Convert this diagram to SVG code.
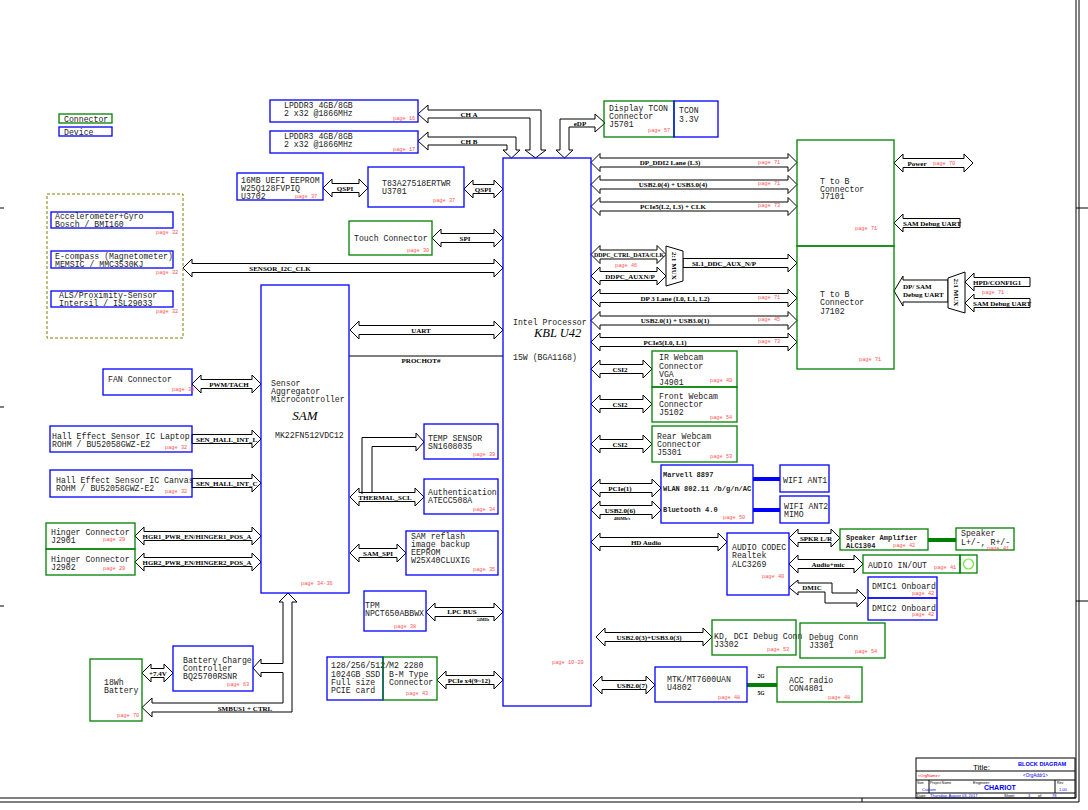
<svg xmlns="http://www.w3.org/2000/svg" width="1088" height="810" viewBox="0 0 1088 810">
<style>
.b{fill:none;stroke:#0000ff;stroke-width:1.3}
.g{fill:none;stroke:#008000;stroke-width:1.3}
.a{fill:#fff;stroke:#000;stroke-width:1}
.t{font-family:"Liberation Mono",monospace;font-size:8.2px;fill:#222}
.tb{font-family:"Liberation Mono",monospace;font-size:7px;font-weight:bold;fill:#222}
.p{font-family:"Liberation Mono",monospace;font-size:5.3px;fill:#ff5050}
.s{font-family:"Liberation Serif",serif;font-size:7px;font-weight:bold;fill:#000;text-anchor:middle}
.sl{font-family:"Liberation Serif",serif;font-size:7px;font-weight:bold;fill:#000}
.k{font-family:"Liberation Serif",serif;font-style:italic;fill:#000}
.f{fill:none;stroke:#000;stroke-width:1}
.tt{font-family:"Liberation Sans",sans-serif;font-size:4px;fill:#000}
</style>
<rect width="1088" height="810" fill="#fff"/>

<g id="frame">
<path class="f" d="M0,798 H1076 V0 M0,802 H1079 V0"/>
<path class="f" d="M0,208 H4 M0,407 H4 M0,606 H4 M1076,208 H1088 M1076,601 H1088 M862,798 V802"/>
</g>

<g id="legend">
<rect class="g" x="59" y="114" width="53" height="9"/>
<text class="t" x="64" y="121.5">Connector</text>
<rect class="b" x="59" y="127" width="53" height="9"/>
<text class="t" x="64" y="134.5">Device</text>
</g>

<g id="connectors">
<!-- memory -->
<polygon class="a" points="418,114 428,105 428,110 541,110 541,150 546,150 535.5,158 525,150 530,150 530,118 428,118 428,123"/>
<polygon class="a" points="418,141 428,132 428,137 516,137 516,150 520,150 511.5,158 503,150 507,150 507,145 428,145 428,150"/>
<polygon class="a" points="564.5,158 556,150 560,150 560,119 595,119 595,114 605,123 595,132 595,127 569,127 569,150 573,150"/>
<!-- left center -->
<polygon class="a" points="323,188 332,179 332,183.5 359,183.5 359,179 368,188 359,197 359,192.5 332,192.5 332,197"/>
<polygon class="a" points="464,189 473,180 473,184.5 494,184.5 494,180 503,189 494,198 494,193.5 473,193.5 473,198"/>
<polygon class="a" points="432,238 441,229 441,233.5 494,233.5 494,229 503,238 494,247 494,242.5 441,242.5 441,247"/>
<polygon class="a" points="183,268 192,259 192,263.5 494,263.5 494,259 503,268 494,277 494,272.5 192,272.5 192,277"/>
<polygon class="a" points="350,330 359,321 359,325.5 494,325.5 494,321 503,330 494,339 494,334.5 359,334.5 359,339"/>
<line class="f" x1="349" y1="356" x2="503" y2="356"/>
<path class="a" d="M362,492.5 V437.5 H416 V433 L424,442 L416,451 V446.5 H372 V492.5"/>
<polygon class="a" points="350,497 359,488 359,492.5 415,492.5 415,488 424,497 415,506 415,501.5 359,501.5 359,506"/>
<line class="f" x1="362" y1="492.5" x2="362" y2="494"/>
<polygon class="a" points="350,553 359,544 359,548.5 397,548.5 397,544 406,553 397,562 397,557.5 359,557.5 359,562"/>
<polygon class="a" points="426,612 435,603 435,607.5 494,607.5 494,603 503,612 494,621 494,616.5 435,616.5 435,621"/>
<polygon class="a" points="437,680 446,671 446,675.5 494,675.5 494,671 503,680 494,689 494,684.5 446,684.5 446,689"/>
<!-- SAM left side -->
<polygon class="a" points="192,384 201,375 201,379.5 252,379.5 252,375 261,384 252,393 252,388.5 201,388.5 201,393"/>
<polygon class="a" points="192,434.5 252,434.5 252,430 261,439 252,448 252,443.5 192,443.5"/>
<polygon class="a" points="192,478.5 252,478.5 252,474 261,483 252,492 252,487.5 192,487.5"/>
<polygon class="a" points="135,536 144,527 144,531.5 252,531.5 252,527 261,536 252,545 252,540.5 144,540.5 144,545"/>
<polygon class="a" points="135,562 144,553 144,557.5 252,557.5 252,553 261,562 252,571 252,566.5 144,566.5 144,571"/>
<polygon class="a" points="142,673 151,664 151,668.5 164,668.5 164,664 173,673 164,682 164,677.5 151,677.5 151,682"/>
<polygon class="a" points="142,707.5 152,698 152,703 283,703 283,672.5 261,672.5 261,677 253,668 261,659 261,663.5 283,663.5 283,602 279,602 288,593 297,602 292,602 292,712 152,712 152,717"/>
<!-- right side -->
<polygon class="a" points="591,162.5 600,153.5 600,158 788,158 788,153.5 797,162.5 788,171.5 788,167 600,167 600,171.5"/>
<polygon class="a" points="591,184.5 600,175.5 600,180 788,180 788,175.5 797,184.5 788,193.5 788,189 600,189 600,193.5"/>
<polygon class="a" points="591,206.5 600,197.5 600,202 788,202 788,197.5 797,206.5 788,215.5 788,211 600,211 600,215.5"/>
<polygon class="a" points="591,254.5 600,245.5 600,250 657,250 657,245.5 666,254.5 657,263.5 657,259 600,259 600,263.5"/>
<polygon class="a" points="591,276 600,267 600,271.5 657,271.5 657,267 666,276 657,285 657,280.5 600,280.5 600,285"/>
<polygon class="a" points="683,258.5 788,258.5 788,254 797,263 788,272 788,267.5 683,267.5"/>
<polygon class="a" points="591,298 600,289 600,293.5 788,293.5 788,289 797,298 788,307 788,302.5 600,302.5 600,307"/>
<polygon class="a" points="591,320.5 600,311.5 600,316 788,316 788,311.5 797,320.5 788,329.5 788,325 600,325 600,329.5"/>
<polygon class="a" points="591,342 600,333 600,337.5 788,337.5 788,333 797,342 788,351 788,346.5 600,346.5 600,351"/>
<polygon class="a" points="591,369 600,360 600,364.5 643,364.5 643,360 652,369 643,378 643,373.5 600,373.5 600,378"/>
<polygon class="a" points="591,404 600,395 600,399.5 643,399.5 643,395 652,404 643,413 643,408.5 600,408.5 600,413"/>
<polygon class="a" points="591,444 600,435 600,439.5 643,439.5 643,435 652,444 643,453 643,448.5 600,448.5 600,453"/>
<polygon class="a" points="591,488 600,479 600,483.5 652,483.5 652,479 661,488 652,497 652,492.5 600,492.5 600,497"/>
<polygon class="a" points="591,510 600,501 600,505.5 652,505.5 652,501 661,510 652,519 652,514.5 600,514.5 600,519"/>
<polygon class="a" points="591,542 600,533 600,537.5 718,537.5 718,533 727,542 718,551 718,546.5 600,546.5 600,551"/>
<polygon class="a" points="789,538 798,529 798,533.5 831,533.5 831,529 840,538 831,547 831,542.5 798,542.5 798,547"/>
<polygon class="a" points="789,564 798,555 798,559.5 854,559.5 854,555 863,564 854,573 854,568.5 798,568.5 798,573"/>
<polygon class="a" points="789,587.5 798,580 798,583 832,583 832,593 857,593 857,589 866,598 857,607 857,603 825,603 825,592 798,592 798,595"/>
<polygon class="a" points="596,637 605,628 605,632.5 703,632.5 703,628 712,637 703,646 703,641.5 605,641.5 605,646"/>
<polygon class="a" points="593,685 602,676 602,680.5 646,680.5 646,676 655,685 646,694 646,689.5 602,689.5 602,694"/>
<polygon class="a" points="894,163 903,154 903,158.5 964,158.5 964,154 973,163 964,172 964,167.5 903,167.5 903,172"/>
<polygon class="a" points="894,223 903,214 903,218.5 960,218.5 960,227.5 903,227.5 903,232"/>
<polygon class="a" points="894,291 903,276 903,280 948,280 948,302 903,302 903,306"/>
<polygon class="a" points="965,282 974,273 974,277.5 1030,277.5 1030,286.5 974,286.5 974,291"/>
<polygon class="a" points="965,303 974,294 974,298.5 1030,298.5 1030,307.5 974,307.5 974,312"/>
<!-- thick links -->
<path d="M753,479 H780 M753,510 H780" stroke="#0000ff" stroke-width="4"/>
<path d="M928,540 H956 M747,685 H777" stroke="#008000" stroke-width="4"/>

<!-- labels -->
<text class="s" x="469" y="116.5">CH A</text>
<text class="s" x="469" y="143.5">CH B</text>
<text class="s" x="580" y="125.5">eDP</text>
<text class="s" x="345" y="190.5">QSPI</text>
<text class="s" x="483" y="191.5">QSPI</text>
<text class="s" x="465" y="240.5">SPI</text>
<text class="s" x="280" y="270.5">SENSOR_I2C_CLK</text>
<text class="s" x="421" y="332.5">UART</text>
<text class="s" x="421" y="363">PROCHOT#</text>
<text class="s" x="385" y="499.5">THERMAL_SCL</text>
<text class="s" x="378" y="555.5">SAM_SPI</text>
<text class="s" x="462" y="614">LPC BUS</text>
<text class="s" x="483" y="620.5" style="font-size:4px">24MHz</text>
<text class="s" x="469" y="682.5">PCIe x4(9~12)</text>
<text class="s" x="229" y="386.5">PWM/TACH</text>
<text class="sl" x="196" y="441.5">SEN_HALL_INT_L</text>
<text class="sl" x="196" y="485.5">SEN_HALL_INT_C</text>
<text class="s" x="197" y="538.5" style="font-size:6.8px">HGR1_PWR_EN/HINGER1_POS_A</text>
<text class="s" x="197" y="564.5" style="font-size:6.8px">HGR2_PWR_EN/HINGER2_POS_A</text>
<text class="s" x="158" y="675.5">+7.4V</text>
<text class="s" x="245" y="710.5">SMBUS1 + CTRL</text>
<text class="s" x="670" y="165">DP_DDI2 Lane (L3)</text>
<text class="s" x="673" y="187">USB2.0(4) + USB3.0(4)</text>
<text class="s" x="673" y="209">PCIe5(L2, L3) + CLK</text>
<text class="s" x="629" y="256.5" style="font-size:6px">DDPC_CTRL_DATA/CLK</text>
<text class="s" x="630" y="278.5">DDPC_AUXN/P</text>
<text class="s" x="724" y="265.5">SL1_DDC_AUX_N/P</text>
<text class="s" x="675" y="300.5">DP 3 Lane (L0, L1, L2)</text>
<text class="s" x="675" y="323">USB2.0(1) + USB3.0(1)</text>
<text class="s" x="665" y="344.5">PCIe5(L0, L1)</text>
<text class="s" x="620" y="371.5">CSI2</text>
<text class="s" x="620" y="406.5">CSI2</text>
<text class="s" x="620" y="446.5">CSI2</text>
<text class="s" x="620" y="490.5">PCIe(1)</text>
<text class="s" x="620" y="512.5">USB2.0(6)</text>
<text class="s" x="622" y="520" style="font-size:4.5px">480Mb/s</text>
<text class="s" x="646" y="544.5">HD Audio</text>
<text class="s" x="816" y="540.5">SPKR L/R</text>
<text class="s" x="828" y="566.5">Audio+mic</text>
<text class="s" x="812" y="590">DMIC</text>
<text class="s" x="649" y="639.5">USB2.0(3)+USB3.0(3)</text>
<text class="s" x="632" y="687.5">USB2.0(7)</text>
<text class="s" x="917" y="165.5">Power</text>
<text class="sl" x="903" y="225.5">SAM Debug UART</text>
<text class="sl" x="903" y="289">DP/ SAM</text>
<text class="sl" x="903" y="296.7">Debug UART</text>
<text class="sl" x="973" y="284.5">HPD/CONFIG1</text>
<text class="sl" x="973" y="305.5">SAM Debug UART</text>
<text class="s" x="761" y="678" style="font-size:5.5px">2G</text>
<text class="s" x="761" y="695" style="font-size:5.5px">5G</text>
<text class="p" x="758" y="163.5">page 71</text>
<text class="p" x="758" y="185">page 71</text>
<text class="p" x="758" y="207">page 73</text>
<text class="p" x="758" y="299">page 71</text>
<text class="p" x="758" y="321">page 45</text>
<text class="p" x="758" y="343">page 73</text>
<text class="p" x="933" y="164.5">page 70</text>
<text class="p" x="615" y="267">page 46</text>
<text class="p" x="982" y="293.5">page 71</text>
</g>

<g id="mux1">
<polygon class="a" points="666,246 683,251 683,281 666,286"/>
<text class="s" transform="translate(674.5,266) rotate(90)" y="2.4">2:1 MUX</text>
</g>
<g id="mux2">
<polygon class="a" points="948,278 965,272 965,313 948,308"/>
<text class="s" transform="translate(956.5,292.5) rotate(90)" y="2.4">2:1 MUX</text>
</g>

<g id="lpddr3-a"><rect class="b" x="270" y="100" width="148" height="22"/>
<text class="t" x="284" y="108">LPDDR3 4GB/8GB</text><text class="t" x="284" y="116">2 x32 @1866MHz</text>
<text class="p" x="393" y="119.5">page 16</text></g>
<g id="lpddr3-b"><rect class="b" x="270" y="131" width="148" height="22"/>
<text class="t" x="284" y="139">LPDDR3 4GB/8GB</text><text class="t" x="284" y="147">2 x32 @1866MHz</text>
<text class="p" x="393" y="150.5">page 17</text></g>

<g id="eeprom"><rect class="b" x="237" y="173" width="86" height="27"/>
<text class="t" x="241" y="183">16MB UEFI EEPROM</text><text class="t" x="241" y="190.5">W25Q128FVPIQ</text><text class="t" x="241" y="198.5">U3702</text>
<text class="p" x="295" y="198">page 37</text></g>

<g id="t83a"><rect class="b" x="368" y="167" width="96" height="40"/>
<text class="t" x="382" y="186">T83A27518ERTWR</text><text class="t" x="382" y="194">U3701</text>
<text class="p" x="433" y="202">page 37</text></g>

<g id="touch"><rect class="g" x="349" y="221" width="83" height="34"/>
<text class="t" x="354" y="241">Touch Connector</text>
<text class="p" x="407" y="251.5">page 30</text></g>

<g id="sensors"><rect x="47" y="194" width="136" height="144" fill="none" stroke="#808000" stroke-width="1" stroke-dasharray="3,2"/></g>
<g id="accel"><rect class="b" x="51" y="212" width="122" height="16"/>
<text class="t" x="55" y="218.5">Accelerometer+Gyro</text><text class="t" x="55" y="226.5">Bosch / BMI160</text>
<text class="p" x="156" y="233.5">page 32</text></g>
<g id="ecompass"><rect class="b" x="51" y="251" width="122" height="17"/>
<text class="t" x="55" y="259">E-compass (Magnetometer)</text><text class="t" x="55" y="266.5">MEMSIC / MMC3530KJ</text>
<text class="p" x="156" y="273.5">page 32</text></g>
<g id="als"><rect class="b" x="51" y="291" width="122" height="16"/>
<text class="t" x="59" y="298">ALS/Proximity-Sensor</text><text class="t" x="59" y="305.5">Intersil / ISL29033</text>
<text class="p" x="156" y="312.5">page 32</text></g>

<g id="sam"><rect class="b" x="261" y="285" width="88" height="308"/>
<text class="t" x="271" y="386">Sensor</text><text class="t" x="271" y="394">Aggregator</text><text class="t" x="271" y="402">Microcontroller</text>
<text class="k" x="305" y="420" text-anchor="middle" style="font-size:13px">SAM</text>
<text class="t" x="275" y="438">MK22FN512VDC12</text>
<text class="p" x="301" y="585">page 34-36</text></g>

<g id="fan"><rect class="b" x="103" y="369" width="89" height="26"/>
<text class="t" x="108" y="382">FAN Connector</text><text class="p" x="172" y="390.5">page 39</text></g>
<g id="hall-laptop"><rect class="b" x="50" y="426" width="142" height="26"/>
<text class="t" x="52" y="438.5">Hall Effect Sensor IC Laptop</text><text class="t" x="52" y="446.5">ROHM / BU52058GWZ-E2</text>
<text class="p" x="165" y="449">page 32</text></g>
<g id="hall-canvas"><rect class="b" x="50" y="470" width="142" height="27"/>
<text class="t" x="56" y="483">Hall Effect Sensor IC Canvas</text><text class="t" x="56" y="490.5">ROHM / BU52058GWZ-E2</text>
<text class="p" x="165" y="493">page 32</text></g>
<g id="hinger1"><rect class="g" x="46" y="523" width="89" height="26"/>
<text class="t" x="51" y="535">Hinger Connector</text><text class="t" x="51" y="543">J2901</text>
<text class="p" x="103" y="541">page 29</text></g>
<g id="hinger2"><rect class="g" x="46" y="549" width="89" height="26"/>
<text class="t" x="51" y="561.5">Hinger Connector</text><text class="t" x="51" y="569.5">J2902</text>
<text class="p" x="103" y="570">page 29</text></g>
<g id="charger"><rect class="b" x="173" y="646" width="80" height="45"/>
<text class="t" x="183" y="663">Battery Charge</text><text class="t" x="183" y="671">Controller</text><text class="t" x="183" y="679">BQ25700RSNR</text>
<text class="p" x="227" y="686">page 63</text></g>
<g id="battery"><rect class="g" x="90" y="659" width="52" height="62"/>
<text class="t" x="104" y="684.5">18Wh</text><text class="t" x="104" y="692.5">Battery</text>
<text class="p" x="117" y="716.5">page 70</text></g>

<g id="temp"><rect class="b" x="424" y="424" width="74" height="35"/>
<text class="t" x="428" y="440.5">TEMP SENSOR</text><text class="t" x="428" y="448.5">SN1608035</text>
<text class="p" x="473" y="455.5">page 39</text></g>
<g id="auth"><rect class="b" x="424" y="479" width="74" height="35"/>
<text class="t" x="428" y="495">Authentication</text><text class="t" x="428" y="503">ATECC508A</text>
<text class="p" x="473" y="510.5">page 34</text></g>
<g id="reflash"><rect class="b" x="406" y="531" width="92" height="44"/>
<text class="t" x="411" y="539">SAM reflash</text><text class="t" x="411" y="547">image backup</text><text class="t" x="411" y="555">EEPROM</text><text class="t" x="411" y="563">W25X40CLUXIG</text>
<text class="p" x="473" y="571">page 35</text></g>
<g id="tpm"><rect class="b" x="364" y="591" width="62" height="40"/>
<text class="t" x="365" y="608">TPM</text><text class="t" x="365" y="616">NPCT650ABBWX</text>
<text class="p" x="394" y="627.5">page 38</text></g>
<g id="ssd"><rect class="b" x="327" y="657" width="56" height="43"/>
<text class="t" x="331" y="668">128/256/512/</text><text class="t" x="331" y="676.5">1024GB SSD</text><text class="t" x="331" y="684.5">Full size</text><text class="t" x="331" y="692.5">PCIE card</text></g>
<g id="m2"><rect class="g" x="383" y="657" width="54" height="43"/>
<text class="t" x="389" y="668">M2 2280</text><text class="t" x="389" y="676.5">B-M Type</text><text class="t" x="389" y="684.5">Connector</text>
<text class="p" x="406" y="694.5">page 43</text></g>

<g id="cpu"><rect class="b" x="503" y="158" width="88" height="548"/>
<text class="t" x="513" y="324.5">Intel Processor</text>
<text class="k" x="534" y="336.5" style="font-size:12.5px">KBL U42</text>
<text class="t" x="513" y="359.5">15W (BGA1168)</text>
<text class="p" x="552" y="664">page 10-20</text></g>

<g id="tcon"><rect class="g" x="604" y="101" width="70" height="36"/>
<text class="t" x="609" y="110.5">Display TCON</text><text class="t" x="609" y="119">Connector</text><text class="t" x="609" y="127">J5701</text>
<text class="p" x="648" y="132">page 57</text></g>
<g id="tcon33"><rect class="b" x="674" y="101" width="44" height="36"/>
<text class="t" x="679" y="113">TCON</text><text class="t" x="679" y="121.5">3.3V</text></g>

<g id="j7101"><rect class="g" x="797" y="140" width="97" height="106"/>
<text class="t" x="820" y="184">T to B</text><text class="t" x="820" y="191.5">Connector</text><text class="t" x="820" y="199">J7101</text>
<text class="p" x="855" y="229.5">page 71</text></g>
<g id="j7102"><rect class="g" x="797" y="246" width="97" height="123"/>
<text class="t" x="820" y="297">T to B</text><text class="t" x="820" y="305">Connector</text><text class="t" x="820" y="313.5">J7102</text>
<text class="p" x="859" y="361">page 71</text></g>

<g id="ir-webcam"><rect class="g" x="652" y="351" width="85" height="36"/>
<text class="t" x="659" y="360">IR Webcam</text><text class="t" x="659" y="368.5">Connector</text><text class="t" x="659" y="377">VGA</text><text class="t" x="659" y="385">J4901</text>
<text class="p" x="710" y="382">page 49</text></g>
<g id="front-webcam"><rect class="g" x="652" y="387" width="85" height="35"/>
<text class="t" x="659" y="398.5">Front Webcam</text><text class="t" x="659" y="406.5">Connector</text><text class="t" x="659" y="414.5">J5102</text>
<text class="p" x="710" y="418.5">page 54</text></g>
<g id="rear-webcam"><rect class="g" x="652" y="426" width="85" height="36"/>
<text class="t" x="657" y="438.5">Rear Webcam</text><text class="t" x="657" y="446.5">Connector</text><text class="t" x="657" y="454.5">J5301</text>
<text class="p" x="710" y="457.5">page 53</text></g>

<g id="marvell"><rect class="b" x="661" y="465" width="92" height="58"/>
<text class="tb" x="663" y="476.5">Marvell 8897</text><text class="tb" x="663" y="490.5">WLAN 802.11 /b/g/n/AC</text><text class="tb" x="663" y="511.5">Bluetooth 4.0</text>
<text class="p" x="723" y="519">page 50</text></g>
<g id="wifi-ant1"><rect class="b" x="780" y="465" width="49" height="27"/>
<text class="t" x="783" y="482.5">WIFI ANT1</text></g>
<g id="wifi-ant2"><rect class="b" x="780" y="496" width="49" height="27"/>
<text class="t" x="784" y="508.5">WIFI ANT2</text><text class="t" x="784" y="516.5">MIMO</text></g>

<g id="codec"><rect class="b" x="727" y="533" width="62" height="62"/>
<text class="t" x="732" y="549.5">AUDIO CODEC</text><text class="t" x="732" y="558">Realtek</text><text class="t" x="732" y="566.5">ALC3269</text>
<text class="p" x="762" y="577.5">page 40</text></g>
<g id="spk-amp"><rect class="g" x="840" y="529" width="88" height="21"/>
<text class="tb" x="846" y="539.5">Speaker Amplifier</text><text class="tb" x="846" y="547.5">ALC1304</text>
<text class="p" x="893" y="547">page 42</text></g>
<g id="speaker"><rect class="g" x="956" y="528" width="58" height="22"/>
<text class="t" x="961" y="535.5">Speaker</text><text class="t" x="961" y="544.5">L+/-, R+/-</text>
<text class="p" x="987" y="549.5">page 41</text></g>
<g id="audio-io"><rect class="g" x="863" y="555" width="97" height="18"/>
<text class="t" x="868" y="568">AUDIO IN/OUT</text><text class="p" x="934" y="569">page 41</text>
<rect class="g" x="960" y="555" width="17" height="18"/>
<circle cx="968.5" cy="564" r="5" fill="none" stroke="#66ee33" stroke-width="1.2"/></g>
<g id="dmic1"><rect class="b" x="868" y="577" width="69" height="21"/>
<text class="t" x="872" y="589">DMIC1 Onboard</text><text class="p" x="912" y="594.5">page 42</text></g>
<g id="dmic2"><rect class="b" x="868" y="598" width="69" height="22"/>
<text class="t" x="872" y="610.5">DMIC2 Onboard</text><text class="p" x="912" y="616">page 42</text></g>

<g id="kd-dci"><rect class="g" x="712" y="620" width="84" height="35"/>
<text class="t" x="714" y="639">KD, DCI Debug Conn</text><text class="t" x="714" y="646.5">J3302</text>
<text class="p" x="767" y="651">page 53</text></g>
<g id="debug-conn"><rect class="g" x="800" y="623" width="85" height="35"/>
<text class="t" x="809" y="639.5">Debug Conn</text><text class="t" x="809" y="647.5">J3301</text>
<text class="p" x="855" y="653">page 54</text></g>
<g id="mtk"><rect class="b" x="655" y="667" width="92" height="35"/>
<text class="t" x="667" y="681.5">MTK/MT7600UAN</text><text class="t" x="667" y="689.5">U4802</text>
<text class="p" x="718" y="698.5">page 48</text></g>
<g id="acc-radio"><rect class="g" x="777" y="667" width="85" height="35"/>
<text class="t" x="789" y="683">ACC radio</text><text class="t" x="789" y="691">CON4801</text>
<text class="p" x="828" y="698.5">page 48</text></g>

<g id="title-block">
<rect class="f" x="916" y="758" width="159" height="40"/>
<path class="f" d="M916,771 H1075 M916,780 H1075 M916,793 H1075 M929,780 V793 M1055,780 V793"/>
<text x="973" y="770" style="font-family:'Liberation Sans',sans-serif;font-size:8px;fill:#000">Title:</text>
<text x="1018" y="766" style="font-family:'Liberation Sans',sans-serif;font-size:5.6px;font-weight:bold;fill:#0000ff">BLOCK DIAGRAM</text>
<text class="tt" x="918" y="777" style="fill:#ff0000">&lt;OrgName&gt;</text>
<text class="tt" x="1023" y="777" style="fill:#0000ff;font-size:4.5px">&lt;OrgAddr1&gt;</text>
<text class="tt" x="973" y="783.5">Engineer:</text>
<text class="tt" x="917" y="783.5" style="font-size:3.5px">Size</text>
<text class="tt" x="930" y="783.5" style="font-size:3.5px">Project Name</text>
<text class="tt" x="1057" y="783.5" style="font-size:3.5px">Rev</text>
<text class="tt" x="922" y="790.5" style="fill:#0000ff">Custom</text>
<text x="984" y="790" style="font-family:'Liberation Sans',sans-serif;font-size:7px;font-weight:bold;fill:#0000ff">CHARIOT</text>
<text class="tt" x="1059" y="791" style="fill:#0000ff">1.00</text>
<text class="tt" x="917" y="797">Date:</text>
<text class="tt" x="930" y="797" style="fill:#0000ff">Thursday, August 03, 2017</text>
<text class="tt" x="1004" y="797">Sheet</text>
<text class="tt" x="1028" y="797" style="fill:#0000ff">3</text>
<text class="tt" x="1038" y="797">of</text>
<text class="tt" x="1052" y="797" style="fill:#0000ff">78</text>
</g>
</svg>
